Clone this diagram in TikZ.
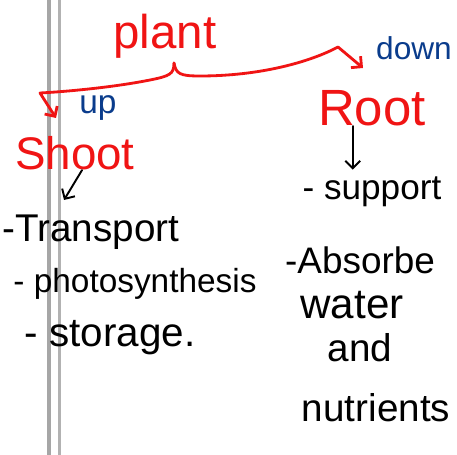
\documentclass[tikz,border=0pt]{standalone}
\usepackage{fontspec}
\setmainfont{Liberation Sans}
\usetikzlibrary{arrows.meta}
\definecolor{penred}{RGB}{240,20,20}
\definecolor{penblue}{RGB}{10,60,140}

\begin{document}
\begin{tikzpicture}[x=0.02cm,y=-0.02cm,
	every node/.style={inner sep=0pt},
	hw/.style={font=\fontsize{#1}{#1}\selectfont},
	redword/.style={hw=#1,text=penred},
	blueword/.style={hw=#1,text=penblue},
	blackword/.style={hw=#1,text=black},
	redpen/.style={draw=penred,line width=1.6pt,line cap=round,line join=round},
	blackpen/.style={draw=black,line width=1.1pt,line cap=round,line join=round},
	barb/.style={-{Straight Barb[angle=90:6pt]}}]

	\useasboundingbox[fill=white] (0,0) rectangle (457,455);

	\draw[gray!70,line width=2pt] (49,0) -- (49,455);
	\draw[gray!60,line width=1.2pt] (59.5,0) -- (59.5,455);

	\node[redword=27pt] (plant) at (165,36) {plant};
	\node[blueword=19pt] (up) at (98,108) {up};
	\node[blueword=18pt] (down) at (414,48) {down};
	\node[redword=26pt] (shoot) at (75,153) {Shoot};
	\node[redword=29pt] (root) at (372,108) {Root};

	\node[blackword=20pt] (support) at (372,192) {- support};
	\node[blackword=22pt] (transport) at (91,232) {-Transport};
	\node[blackword=19pt] (photo) at (135,284) {- photosynthesis};
	\node[blackword=23pt] (storage) at (110,338) {- storage.};
	\node[blackword=21pt] (absorbe) at (360,260) {-Absorbe};
	\node[blackword=24pt] (water) at (352,305) {water};
	\node[blackword=22pt] (and) at (360,348) {and};
	\node[blackword=22pt] (nutrients) at (376,408) {nutrients};

	\coordinate (tip) at (174,63);
	\coordinate (shootend) at (56,118);
	\coordinate (rootend) at (363,68);
	\coordinate (shootarr) at (64,200);

	\draw[redpen,barb] (tip) .. controls (174,74) and (170,76) .. (150,80)
		.. controls (110,88) and (60,92) .. (40,93) -- (shootend);
	\draw[redpen,barb] (tip) .. controls (176,74) and (180,76) .. (200,76)
		.. controls (260,76) and (310,62) .. (338,47) -- (rootend);

	\draw[blackpen,barb,shorten >=4pt] ([xshift=-11pt]root.south) -- ([xshift=-11pt]root.south |- support.north);
	\draw[blackpen,barb] ([xshift=4pt]shoot.south) -- (shootarr);

\end{tikzpicture}
\end{document}
